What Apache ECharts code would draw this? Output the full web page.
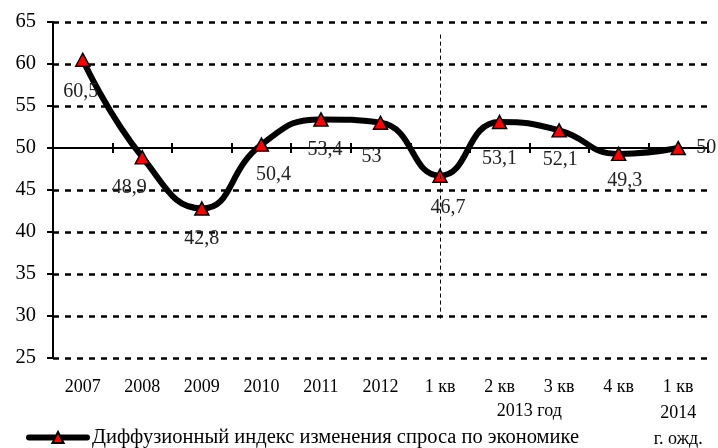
<!DOCTYPE html>
<html>
<head>
<meta charset="utf-8">
<script src="https://cdn.jsdelivr.net/npm/echarts@6/dist/echarts.min.js"></script>
<style>html,body{margin:0;padding:0;background:#fff}#c{width:718px;height:448px}</style>
</head>
<body>
<div id="c"></div>
<script>
// ---- data ----
const categories = ['2007', '2008', '2009', '2010', '2011', '2012', '1 кв', '2 кв', '3 кв', '4 кв', '1 кв\n2014\nг. ожд.'];
const values = [60.5, 48.9, 42.8, 50.4, 53.4, 53, 46.7, 53.1, 52.1, 49.3, 50];
const seriesName = 'Диффузионный индекс изменения спроса по экономике';
const groupLabel = '2013 год';
const groupCategoryIdx = [7, 8];
const yMin = 25, yMax = 65, yStep = 5;
const baseline = 50;
const dividerCategoryIdx = 6;
const dividerRange = [63.5, 29.5];

// ---- styles ----
const FONT = "'Liberation Serif', 'Times New Roman', serif";
const labelOffsets = [[-2, 32], [-13, 31], [0, 30], [12, 30], [4, 30], [-9, 34], [8, 32], [0, 37], [1, 29], [6, 27], [28, 0]];
const gridTop = 22, gridBottom = 90;
const gridH = 448 - gridTop - gridBottom;
const baseOffset = -(baseline - yMin) / (yMax - yMin) * gridH;
const nSplits = Math.round((yMax - yMin) / yStep) + 1;
const splitColors = [];
for (let i = 0; i < nSplits; i++) splitColors.push(yMin + i * yStep === baseline ? 'rgba(0,0,0,0)' : '#000');

const chart = echarts.init(document.getElementById('c'), null, {renderer: 'canvas'});
const fmt = v => String(v).replace('.', ',');

const xCommon = {type: 'category', data: categories, position: 'bottom', boundaryGap: true};
chart.setOption({
  animation: false,
  grid: {left: 53, right: 10, top: gridTop, bottom: gridBottom, containLabel: false, outerBoundsMode: 'none'},
  legend: {
    left: 21, top: 422, itemWidth: 58, itemHeight: 14, itemGap: 4,
    textStyle: {fontFamily: FONT, fontSize: 20.5, color: '#000'},
    lineStyle: {width: 6, cap: 'round'},
    data: [seriesName]
  },
  xAxis: [
    Object.assign({}, xCommon, {
      axisLine: {show: false}, axisTick: {show: false}, splitLine: {show: false},
      axisLabel: {fontFamily: FONT, fontSize: 18, color: '#000', margin: 16, lineHeight: 26, interval: 0}
    }),
    Object.assign({}, xCommon, {
      offset: baseOffset,
      axisLine: {show: true, onZero: false, lineStyle: {color: '#000', width: 2}},
      axisTick: {show: true, length: 5, lineStyle: {color: '#000', width: 2}},
      axisLabel: {show: false}, splitLine: {show: false}
    }),
    Object.assign({}, xCommon, {
      offset: baseOffset,
      axisLine: {show: false, onZero: false},
      axisTick: {show: true, inside: true, length: 5, lineStyle: {color: '#000', width: 2}},
      axisLabel: {show: false}, splitLine: {show: false}
    })
  ],
  yAxis: {
    type: 'value', min: yMin, max: yMax, interval: yStep,
    axisLine: {show: true, lineStyle: {color: '#000', width: 2}},
    axisTick: {show: true, length: 6, lineStyle: {color: '#000', width: 2}},
    axisLabel: {fontFamily: FONT, fontSize: 20.5, color: '#000', margin: 17},
    splitLine: {show: true, lineStyle: {color: splitColors, width: 2.5, type: [6, 6]}}
  },
  series: [{
    name: seriesName,
    type: 'line',
    xAxisIndex: 0,
    data: values.map((v, i) => ({
      value: v,
      label: {position: 'inside', offset: labelOffsets[i]}
    })),
    smooth: 0.5,
    lineStyle: {color: '#000', width: 6, cap: 'round'},
    itemStyle: {color: '#ff0000', borderColor: '#000', borderWidth: 1.5},
    symbol: 'triangle',
    symbolSize: [14, 13],
    label: {
      show: true, fontFamily: FONT, fontSize: 20, color: '#222',
      formatter: p => fmt(p.value)
    },
    markLine: {
      silent: true, symbol: 'none', label: {show: false},
      lineStyle: {color: '#000', width: 1, type: [4, 3]},
      data: [[{coord: [dividerCategoryIdx, dividerRange[0]]}, {coord: [dividerCategoryIdx, dividerRange[1]]}]]
    },
    z: 3
  }]
});

const xa = chart.convertToPixel({xAxisIndex: 0}, groupCategoryIdx[0]);
const xb = chart.convertToPixel({xAxisIndex: 0}, groupCategoryIdx[1]);
const baseY = chart.convertToPixel({yAxisIndex: 0}, yMin);
chart.setOption({
  graphic: [{
    type: 'text', x: (xa + xb) / 2, y: baseY + 53,
    style: {text: groupLabel, fontFamily: FONT, fontSize: 18, fill: '#000', align: 'center', verticalAlign: 'middle'}
  }]
});
</script>
</body>
</html>
